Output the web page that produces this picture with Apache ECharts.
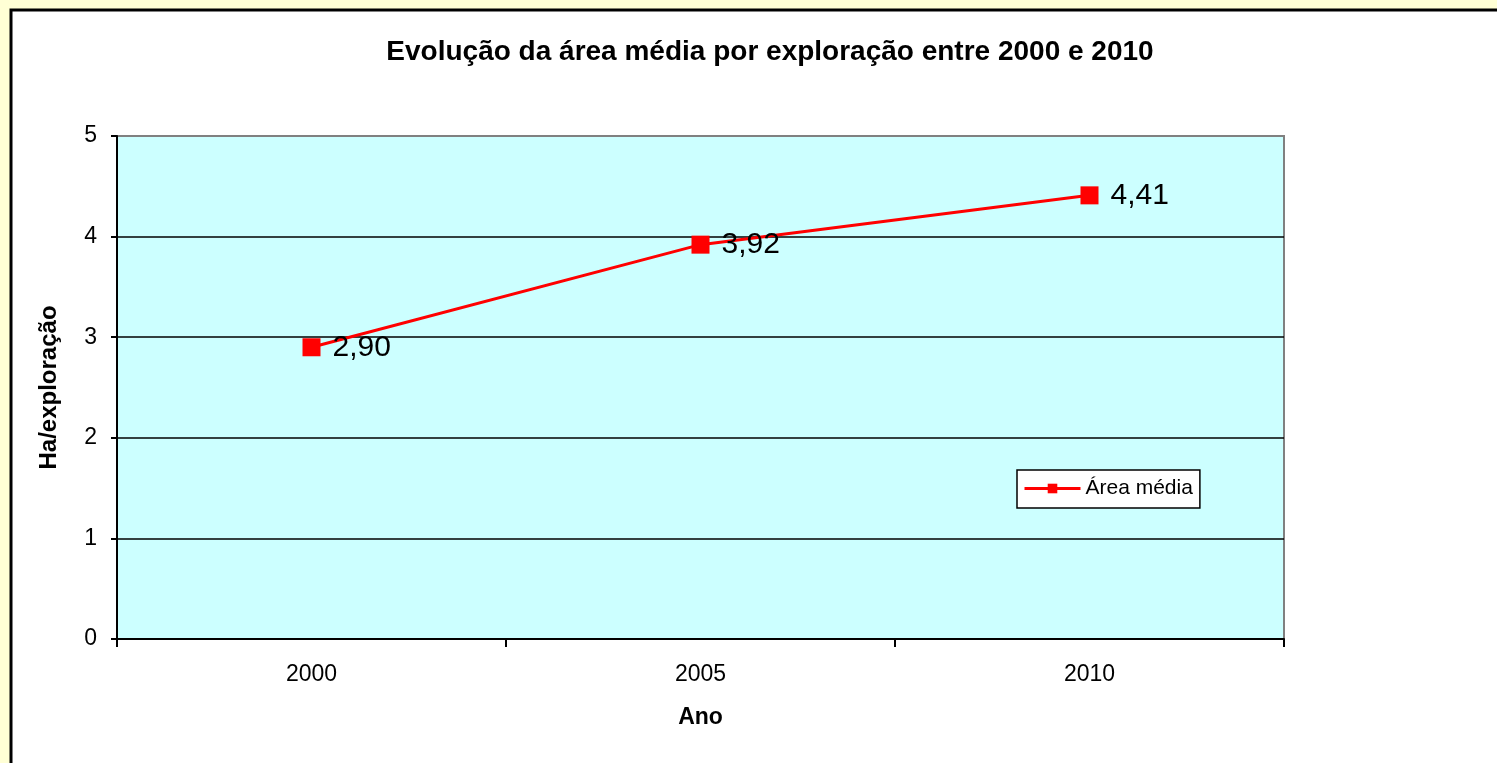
<!DOCTYPE html>
<html>
<head>
    <meta charset="utf-8">
    <title>Evolução da área média</title>
    <script src="https://cdn.jsdelivr.net/npm/echarts@6/dist/echarts.min.js"></script>
    <style>
        html, body { margin: 0; padding: 0; background: #FFFFD5; }
        #chart1 { width: 1497px; height: 763px; }
    </style>
</head>
<body>
<div id="chart1"></div>
<script type="text/javascript">
    // dados
    var anos = ['2000', '2005', '2010'];
    var areaMedia = [2.90, 3.92, 4.41];
    var yTicks = [0, 1, 2, 3, 4, 5];

    var myChart1 = echarts.init(document.getElementById('chart1'));

    myChart1.setOption({
        backgroundColor: '#FFFFD5',
        textStyle: { fontFamily: 'Liberation Sans, Arial, sans-serif' },
        animation: false,
        graphic: [{
            type: 'rect',
            z: -10,
            shape: { x: 11, y: 10, width: 1600, height: 900 },
            style: { fill: '#FFFFFF', stroke: '#000000', lineWidth: 3 }
        }],
        title: {
            text: 'Evolução da área média por exploração entre 2000 e 2010',
            left: 765,
            textAlign: 'center',
            top: 33,
            textStyle: { fontSize: 28, fontWeight: 'bold', color: '#000' }
        },
        legend: {
            data: ['Área média'],
            left: 1017,
            top: 470,
            orient: 'horizontal',
            backgroundColor: '#FFFFFF',
            borderColor: '#000000',
            borderWidth: 1.5,
            borderRadius: 0,
            padding: [8, 7, 9, 6],
            itemWidth: 56,
            itemHeight: 12,
            itemGap: 4,
            lineStyle: { width: 3 },
            textStyle: { fontSize: 21, color: '#000' }
        },
        grid: {
            show: true,
            left: 117,
            top: 136,
            width: 1167,
            height: 503,
            backgroundColor: '#CCFFFF',
            borderColor: '#808080',
            borderWidth: 2
        },
        xAxis: {
            type: 'category',
            data: anos,
            boundaryGap: true,
            name: 'Ano',
            nameLocation: 'middle',
            nameGap: 67,
            nameTextStyle: { fontSize: 23, fontWeight: 'bold', color: '#000' },
            axisLine: { lineStyle: { color: '#000', width: 2 } },
            axisTick: { show: true, length: 8, lineStyle: { color: '#000', width: 2 } },
            axisLabel: { fontSize: 23, color: '#000', margin: 24 },
            splitLine: { show: false }
        },
        yAxis: {
            type: 'value',
            min: yTicks[0],
            max: yTicks[yTicks.length - 1],
            interval: 1,
            name: 'Ha/exploração',
            nameLocation: 'middle',
            nameGap: 56,
            nameTextStyle: { fontSize: 24, fontWeight: 'bold', color: '#000' },
            axisLine: { show: true, lineStyle: { color: '#000', width: 2 } },
            axisTick: { show: true, length: 6, lineStyle: { color: '#000', width: 2 } },
            axisLabel: { fontSize: 23, color: '#000', margin: 20 },
            splitLine: {
                show: true,
                lineStyle: { color: ['#000', '#000', '#000', '#000', '#000', '#808080'], width: 1.5 }
            }
        },
        series: [{
            name: 'Área média',
            type: 'line',
            data: areaMedia,
            symbol: 'rect',
            symbolSize: 18,
            itemStyle: { color: '#FF0000' },
            lineStyle: { color: '#FF0000', width: 3 },
            label: {
                show: true,
                position: 'right',
                distance: 12,
                fontSize: 30,
                color: '#000',
                formatter: function (p) {
                    return p.value.toFixed(2).replace('.', ',');
                }
            }
        }]
    });
</script>
</body>
</html>
